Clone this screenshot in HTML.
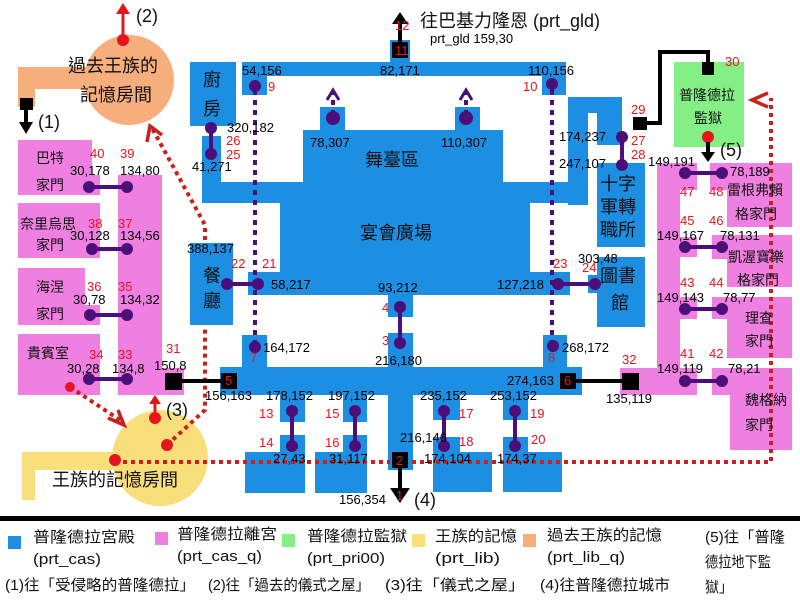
<!DOCTYPE html>
<html><head><meta charset="utf-8"><style>
html,body{margin:0;padding:0;background:#fff;}
svg{display:block;font-family:"Liberation Sans","Noto Sans CJK TC",sans-serif;}
.n{font-size:13px;fill:#000;}
.r{font-size:13px;fill:#e8141c;}
.c{font-size:18px;fill:#111;}
.l{font-size:14px;fill:#111;}
</style></head><body>
<svg width="800" height="600" viewBox="0 0 800 600" xmlns="http://www.w3.org/2000/svg">
<!-- orange -->
<rect x="18" y="67" width="90" height="22" fill="#f5ae7c"/>
<rect x="18" y="67" width="17" height="40" fill="#f5ae7c"/>
<circle cx="129" cy="80" r="45" fill="#f5ae7c"/>
<!-- yellow -->
<rect x="22" y="452" width="140" height="18" fill="#f8df7c"/>
<rect x="22" y="452" width="13" height="48" fill="#f8df7c"/>
<circle cx="160" cy="458" r="48" fill="#f8df7c"/>
<!-- green -->
<rect x="674" y="62" width="70" height="85" fill="#84ef84"/>
<!-- pink left -->
<g fill="#f07fe2">
<rect x="18" y="140" width="74" height="55"/><rect x="88" y="175" width="12" height="20"/>
<rect x="18" y="203" width="82" height="55"/>
<rect x="18" y="268" width="67" height="57"/><rect x="80" y="305" width="20" height="20"/>
<rect x="18" y="334" width="82" height="61"/>
<rect x="118" y="175" width="44" height="220"/>
<rect x="160" y="368" width="24" height="27"/>
<!-- pink right -->
<rect x="657" y="163" width="23" height="232"/>
<rect x="620" y="368" width="77" height="27"/>
<rect x="678" y="163" width="19" height="27"/><rect x="678" y="237" width="19" height="20"/><rect x="678" y="297" width="19" height="22"/>
<rect x="710" y="163" width="82" height="27"/><rect x="727" y="163" width="65" height="64"/>
<rect x="712" y="235" width="80" height="24"/><rect x="727" y="235" width="65" height="52"/>
<rect x="712" y="297" width="80" height="22"/><rect x="727" y="297" width="65" height="61"/>
<rect x="712" y="368" width="80" height="27"/><rect x="730" y="368" width="62" height="82"/>
</g>
<!-- blue -->
<g fill="#1c8fe3">
<rect x="190" y="62" width="46" height="64"/>
<rect x="202" y="136" width="19" height="67"/>
<rect x="202" y="182" width="366" height="21"/>
<rect x="303" y="130" width="200" height="60"/>
<rect x="320" y="107" width="25" height="25"/><rect x="455" y="107" width="25" height="25"/>
<rect x="242" y="62" width="324" height="14"/>
<rect x="242" y="62" width="25" height="33"/><rect x="542" y="62" width="24" height="33"/>
<rect x="390" y="40" width="20" height="24"/>
<rect x="280" y="200" width="250" height="95"/>
<rect x="248" y="272" width="34" height="23"/>
<rect x="530" y="272" width="40" height="23"/>
<rect x="190" y="243" width="43" height="82"/>
<rect x="568" y="97" width="20" height="108"/>
<rect x="568" y="97" width="54" height="16"/>
<rect x="597" y="97" width="25" height="48"/>
<rect x="597" y="163" width="48" height="84"/>
<rect x="597" y="257" width="48" height="70"/><rect x="588" y="275" width="12" height="18"/>
<rect x="388" y="293" width="25" height="24"/>
<rect x="388" y="333" width="25" height="137"/>
<rect x="242" y="335" width="25" height="32"/><rect x="543" y="335" width="24" height="32"/>
<rect x="220" y="367" width="362" height="28"/>
<rect x="280" y="395" width="25" height="27"/><rect x="280" y="435" width="25" height="18"/><rect x="245" y="452" width="60" height="41"/>
<rect x="343" y="395" width="24" height="27"/><rect x="343" y="435" width="24" height="18"/><rect x="315" y="452" width="52" height="41"/>
<rect x="433" y="395" width="27" height="25"/><rect x="433" y="437" width="27" height="16"/><rect x="433" y="452" width="59" height="40"/>
<rect x="503" y="395" width="25" height="25"/><rect x="503" y="437" width="25" height="16"/><rect x="503" y="452" width="59" height="40"/>
</g>
<!-- red dotted -->
<g stroke="#c8201c" stroke-width="4" stroke-dasharray="4,4" fill="none">
<path d="M115,462 L390,462"/><path d="M412,462 L771,462 L771,98"/>
<path d="M205,240 L205,225 L152,128"/>
<path d="M167,445 L205,410 L205,327"/>
<path d="M70,387 L120,420"/>
</g>
<g stroke="#c8201c" stroke-width="3.5" fill="none">
<path d="M147,142 L150,126 L162,135"/>
<path d="M768,93 L752,100 L768,107"/>
<path d="M108,418 L124,425 L118,410"/>
</g>
<circle cx="115" cy="460" r="6" fill="#e8141c"/><circle cx="167" cy="445" r="6" fill="#e8141c"/>
<circle cx="70" cy="387" r="5" fill="#e8141c"/>
<circle cx="155" cy="418" r="6" fill="#e8141c"/><path d="M155,412V402" stroke="#e8141c" stroke-width="3"/><path d="M149,404L155,395L161,404Z" fill="#e8141c"/>
<circle cx="123" cy="40" r="6" fill="#e8141c"/><path d="M123,36V12" stroke="#e8141c" stroke-width="3"/><path d="M116,14L123,3L130,14Z" fill="#e8141c"/>
<circle cx="708" cy="137" r="6" fill="#e8141c"/>
<!-- purple dashed -->
<g stroke="#4b0f7a" stroke-width="4" stroke-dasharray="5,5" fill="none">
<path d="M255,90 V345"/><path d="M552,90 V345"/>
<path d="M333,115 V92"/><path d="M466,115 V92"/>
</g>
<path d="M327,100 L333,90 L339,100 M460,100 L466,90 L472,100" stroke="#4b0f7a" stroke-width="3" fill="none"/>
<!-- purple solid links -->
<g stroke="#4b0f7a" stroke-width="4">
<path d="M227,284H258M211,128V154M558,284H595M622,137V165M400,307V343M292,411V446M355,411V446M444,411V446M515,411V446M89,187H127M92,249H127M90,315H127M89,379H127M685,173H722M685,247H722M685,309H722M685,381H722"/>
</g>
<g fill="#4b0f7a">
<circle cx="255" cy="86" r="6"/><circle cx="552" cy="84" r="6"/><circle cx="333" cy="118" r="7"/><circle cx="466" cy="118" r="7"/>
<circle cx="227" cy="284" r="6"/><circle cx="258" cy="284" r="6"/><circle cx="211" cy="128" r="6"/><circle cx="211" cy="154" r="6"/>
<circle cx="558" cy="284" r="6"/><circle cx="595" cy="284" r="6"/><circle cx="622" cy="137" r="6"/><circle cx="622" cy="165" r="6"/>
<circle cx="400" cy="307" r="6"/><circle cx="400" cy="343" r="6"/><circle cx="255" cy="347" r="6"/><circle cx="553" cy="346" r="6"/>
<circle cx="292" cy="411" r="6"/><circle cx="292" cy="446" r="6"/><circle cx="355" cy="411" r="6"/><circle cx="355" cy="446" r="6"/>
<circle cx="444" cy="411" r="6"/><circle cx="444" cy="446" r="6"/><circle cx="515" cy="411" r="6"/><circle cx="515" cy="446" r="6"/>
<circle cx="89" cy="187" r="6"/><circle cx="127" cy="187" r="6"/><circle cx="92" cy="249" r="6"/><circle cx="127" cy="249" r="6"/>
<circle cx="90" cy="315" r="6"/><circle cx="127" cy="315" r="6"/><circle cx="89" cy="379" r="6"/><circle cx="127" cy="379" r="6"/>
<circle cx="685" cy="173" r="6"/><circle cx="722" cy="173" r="6"/><circle cx="685" cy="247" r="6"/><circle cx="722" cy="247" r="6"/>
<circle cx="685" cy="309" r="6"/><circle cx="722" cy="309" r="6"/><circle cx="685" cy="381" r="6"/><circle cx="722" cy="381" r="6"/>
</g>
<!-- black links -->
<g stroke="#000" stroke-width="4" fill="none">
<path d="M173,381H229"/><path d="M568,381H630"/>
<path d="M640,123H660V52H708V68"/>
<path d="M400,44V22"/><path d="M400,460V490"/>
<path d="M26,104V125"/><path d="M708,142V155"/>
</g>
<g fill="#000">
<rect x="165" y="373" width="17" height="17"/><rect x="221" y="373" width="16" height="16"/>
<rect x="560" y="373" width="16" height="16"/><rect x="622" y="373" width="17" height="17"/>
<rect x="392" y="42" width="16" height="16"/><rect x="392" y="452" width="16" height="16"/>
<rect x="633" y="117" width="14" height="13"/><rect x="702" y="62" width="12" height="13"/>
<rect x="20" y="98" width="13" height="12"/>
<path d="M392,24L400,12L408,24Z"/><path d="M390,488L400,503L410,488Z"/>
<path d="M19,122L26,134L33,122Z"/><path d="M701,152L708,162L715,152Z"/>
</g>
<g class="r" font-size="12">
<text x="225" y="385">5</text><text x="564" y="385">6</text><text x="395" y="55">11</text><text x="395" y="30">12</text><text x="396" y="465">2</text><text x="396" y="500">1</text>
</g>
<!-- room labels -->
<g class="c">
<text x="68" y="72">過去王族的</text><text x="80" y="101">記憶房間</text>
<text x="52" y="486">王族的記憶房間</text>
<text x="203" y="86">廚</text><text x="203" y="115">房</text>
<text x="203" y="282">餐</text><text x="203" y="307">廳</text>
<text x="365" y="166">舞臺區</text><text x="360" y="239">宴會廣場</text>
<text x="600" y="190">十字</text><text x="600" y="213">軍轉</text><text x="600" y="236">職所</text>
<text x="600" y="282">圖書</text><text x="611" y="309">館</text>
</g>
<g class="l" font-size="15">
<text x="36" y="163">巴特</text><text x="36" y="190">家門</text>
<text x="20" y="229">奈里烏思</text><text x="36" y="250">家門</text>
<text x="36" y="292">海涅</text><text x="36" y="319">家門</text>
<text x="27" y="358">貴賓室</text>
<text x="679" y="100">普隆德拉</text><text x="694" y="123">監獄</text>
<text x="727" y="195">雷根弗賴</text><text x="735" y="219">格家門</text>
<text x="728" y="262">凱渥寶樂</text><text x="737" y="285">格家門</text>
<text x="745" y="323">理查</text><text x="745" y="346">家門</text>
<text x="745" y="405">魏格納</text><text x="745" y="430">家門</text>
</g>
<g font-size="18" fill="#111">
<text x="420" y="27">往巴基力隆恩 (prt_gld)</text>
<text x="38" y="128">(1)</text><text x="136" y="22">(2)</text><text x="166" y="416">(3)</text><text x="414" y="506">(4)</text><text x="720" y="156">(5)</text>
</g>
<!-- coord labels -->
<g class="n">
<text x="430" y="43">prt_gld 159,30</text>
<text x="242" y="75">54,156</text><text x="380" y="75">82,171</text><text x="528" y="75">110,156</text>
<text x="227" y="132">320,182</text><text x="310" y="147">78,307</text><text x="441" y="147">110,307</text>
<text x="192" y="171">41,271</text><text x="559" y="141">174,237</text><text x="559" y="168">247,107</text>
<text x="187" y="253">388,137</text><text x="271" y="289">58,217</text><text x="378" y="292">93,212</text>
<text x="497" y="289">127,218</text><text x="578" y="263">303,48</text>
<text x="263" y="352">164,172</text><text x="375" y="365">216,180</text><text x="562" y="352">268,172</text>
<text x="205" y="400">156,163</text><text x="266" y="400">178,152</text><text x="328" y="400">197,152</text>
<text x="420" y="400">235,152</text><text x="490" y="400">253,152</text><text x="507" y="385">274,163</text>
<text x="400" y="442">216,146</text><text x="273" y="463">27,43</text><text x="329" y="463">31,117</text>
<text x="424" y="463">174,104</text><text x="497" y="463">174,37</text><text x="339" y="504">156,354</text>
<text x="606" y="403">135,119</text><text x="154" y="370">150,8</text>
<text x="70" y="175">30,178</text><text x="120" y="175">134,80</text>
<text x="70" y="240">30,128</text><text x="120" y="240">134,56</text>
<text x="73" y="304">30,78</text><text x="120" y="304">134,32</text>
<text x="67" y="373">30,28</text><text x="112" y="373">134,8</text>
<text x="648" y="166">149,191</text><text x="730" y="176">78,189</text>
<text x="657" y="240">149,167</text><text x="720" y="240">78,131</text>
<text x="657" y="302">149,143</text><text x="723" y="302">78,77</text>
<text x="657" y="373">149,119</text><text x="728" y="373">78,21</text>
</g>
<g class="r">
<text x="268" y="91">9</text><text x="523" y="91">10</text><text x="226" y="145">26</text><text x="226" y="159">25</text>
<text x="631" y="114">29</text><text x="631" y="145">27</text><text x="631" y="159">28</text><text x="725" y="66">30</text>
<text x="231" y="268">22</text><text x="262" y="268">21</text><text x="553" y="268">23</text><text x="582" y="272">24</text>
<text x="382" y="312">4</text><text x="382" y="345">3</text><text x="250" y="362">7</text><text x="548" y="362">8</text>
<text x="259" y="418">13</text><text x="259" y="447">14</text><text x="325" y="418">15</text><text x="325" y="447">16</text>
<text x="459" y="418">17</text><text x="459" y="446">18</text><text x="530" y="418">19</text><text x="531" y="444">20</text>
<text x="166" y="353">31</text><text x="622" y="364">32</text>
<text x="90" y="158">40</text><text x="120" y="158">39</text><text x="88" y="228">38</text><text x="118" y="228">37</text>
<text x="87" y="291">36</text><text x="118" y="291">35</text><text x="89" y="359">34</text><text x="118" y="359">33</text>
<text x="680" y="196">47</text><text x="709" y="196">48</text><text x="680" y="225">45</text><text x="709" y="225">46</text>
<text x="680" y="287">43</text><text x="709" y="287">44</text><text x="680" y="358">41</text><text x="709" y="358">42</text>
</g>
<!-- legend -->
<rect x="0" y="516" width="800" height="5" fill="#000"/>
<g font-size="15" fill="#111">
<rect x="8" y="536" width="13" height="13" fill="#1c8fe3"/><text x="33" y="542" textLength="102" lengthAdjust="spacingAndGlyphs">普隆德拉宮殿</text><text x="33" y="564" textLength="68" lengthAdjust="spacingAndGlyphs">(prt_cas)</text>
<rect x="155" y="532" width="13" height="13" fill="#f07fe2"/><text x="177" y="539" textLength="100" lengthAdjust="spacingAndGlyphs">普隆德拉離宮</text><text x="177" y="561" textLength="85" lengthAdjust="spacingAndGlyphs">(prt_cas_q)</text>
<rect x="282" y="534" width="13" height="13" fill="#84ef84"/><text x="307" y="541" textLength="100" lengthAdjust="spacingAndGlyphs">普隆德拉監獄</text><text x="307" y="563" textLength="78" lengthAdjust="spacingAndGlyphs">(prt_pri00)</text>
<rect x="412" y="534" width="13" height="13" fill="#f8df7c"/><text x="435" y="541" textLength="82" lengthAdjust="spacingAndGlyphs">王族的記憶</text><text x="435" y="563" textLength="65" lengthAdjust="spacingAndGlyphs">(prt_lib)</text>
<rect x="523" y="534" width="13" height="13" fill="#f5ae7c"/><text x="547" y="540" textLength="115" lengthAdjust="spacingAndGlyphs">過去王族的記憶</text><text x="547" y="562" textLength="78" lengthAdjust="spacingAndGlyphs">(prt_lib_q)</text>
<text x="705" y="542" textLength="80" lengthAdjust="spacingAndGlyphs">(5)往「普隆</text><text x="705" y="567" textLength="66" lengthAdjust="spacingAndGlyphs">德拉地下監</text><text x="705" y="592" textLength="28" lengthAdjust="spacingAndGlyphs">獄」</text>
<text x="5" y="590" textLength="190" lengthAdjust="spacingAndGlyphs">(1)往「受侵略的普隆德拉」</text>
<text x="208" y="590" textLength="162" lengthAdjust="spacingAndGlyphs">(2)往「過去的儀式之屋」</text>
<text x="385" y="590" textLength="140" lengthAdjust="spacingAndGlyphs">(3)往「儀式之屋」</text>
<text x="540" y="590" textLength="130" lengthAdjust="spacingAndGlyphs">(4)往普隆德拉城市</text>
</g>
</svg>
</body></html>
